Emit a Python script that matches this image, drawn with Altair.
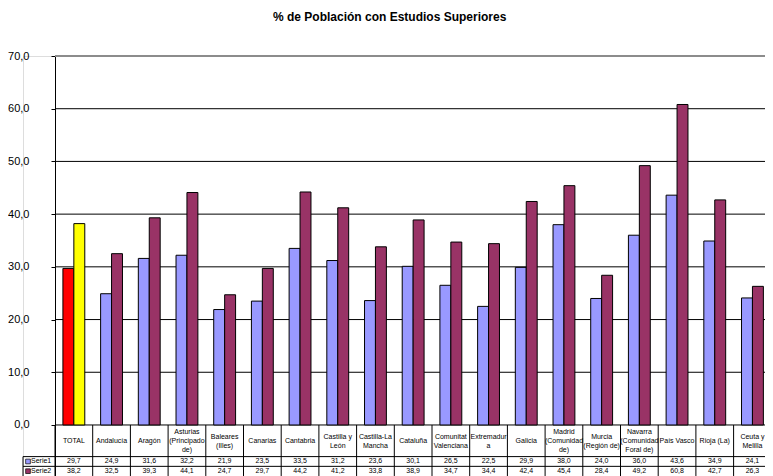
import altair as alt
import pandas as pd

# ---------------- data ----------------
categories = ["TOTAL", "Andalucía", "Aragón", "Asturias (Principado de)", "Baleares (Illes)",
              "Canarias", "Cantabria", "Castilla y León", "Castilla-La Mancha", "Cataluña",
              "Comunitat Valenciana", "Extremadura", "Galicia", "Madrid (Comunidad de)",
              "Murcia (Región de)", "Navarra (Comunidad Foral de)", "País Vasco", "Rioja (La)",
              "Ceuta y Melilla"]
header_labels = ["TOTAL", "Andalucía", "Aragón", "Asturias|(Principado|de)", "Baleares|(Illes)",
                 "Canarias", "Cantabria", "Castilla y|León", "Castilla-La|Mancha", "Cataluña",
                 "Comunitat|Valenciana", "Extremadur|a", "Galicia", "Madrid|(Comunidad|de)",
                 "Murcia|(Región de)", "Navarra|(Comunidad|Foral de)", "País Vasco", "Rioja (La)",
                 "Ceuta y|Melilla"]
serie1 = [29.7, 24.9, 31.6, 32.2, 21.9, 23.5, 33.5, 31.2, 23.6, 30.1,
          26.5, 22.5, 29.9, 38.0, 24.0, 36.0, 43.6, 34.9, 24.1]
serie2 = [38.2, 32.5, 39.3, 44.1, 24.7, 29.7, 44.2, 41.2, 33.8, 38.9,
          34.7, 34.4, 42.4, 45.4, 28.4, 49.2, 60.8, 42.7, 26.3]
series_names = ["Serie1", "Serie2"]
series_colors = ["#9999FF", "#993366"]
total_colors = ["#FF0000", "#FFFF00"]
y_ticks = [0, 10, 20, 30, 40, 50, 60, 70]

# ---------------- layout constants (column / table units) ----------------
PX_PER_COL = 37.7   # pixel width of one category column
LEG = 32 / PX_PER_COL  # width of the legend column of the data table
PLOT_W = 742
PLOT_H = 420
X_MAX = PLOT_W / PX_PER_COL - LEG   # visible right end (last column is cut like the original)
BAR_W = 0.29        # bar width as share of a category column
Y_TOP = 70
HEAD_BOT = -6.0     # data-table rows (below the zero line)
S1_BOT = -7.85
Y_MIN = -9.68
LINE_H = 9          # header line height (px)
FONT = "Liberation Sans"
px_per_y = PLOT_H / (Y_TOP - Y_MIN)
SW_X = -LEG + 5 / PX_PER_COL  # legend swatch centre

# ---------------- tables ----------------
rows = []
for i, cat in enumerate(categories):
    for s, vals in enumerate([serie1, serie2]):
        fill = total_colors[s] if cat == "TOTAL" else series_colors[s]
        rows.append({"idx": i, "cat": cat, "s": s, "series": series_names[s],
                     "value": vals[i], "fill": fill})
bars_df = pd.DataFrame(rows)
header_df = pd.DataFrame({"idx": list(range(len(categories))), "label": header_labels})
grid_df = pd.DataFrame({"v": y_ticks})
vlines_df = pd.DataFrame({"i": list(range(len(categories) + 1))})
legend_df = pd.DataFrame({"series": series_names, "color": series_colors, "s": [0, 1]})

xscale = alt.Scale(domain=[-LEG, X_MAX], nice=False, zero=False, padding=0)
yscale = alt.Scale(domain=[Y_MIN, Y_TOP], nice=False, zero=False, padding=0)
y_axis = alt.Axis(
    values=y_ticks, labelExpr="replace(format(datum.value, '.1f'), '.', ',')",
    offset=-32, grid=False, title=None,
    domainColor="#000000", domainWidth=1, tickColor="#000000", tickSize=4,
    labelFont=FONT, labelFontSize=11, labelColor="#000000", labelPadding=22)


def X(field):
    return alt.X(field, scale=xscale, axis=None)


def Y(field):
    return alt.Y(field, scale=yscale, axis=y_axis)


row_center = f"datum.s == 0 ? {(HEAD_BOT + S1_BOT) / 2} : {(S1_BOT + Y_MIN) / 2}"

# grid lines (0 line = x axis / table top, 70 = grey plot-area frame)
grid = alt.Chart(grid_df).transform_calculate(
    xa="0", xb=str(X_MAX)).mark_rule().encode(
    x=X("xa:Q"), x2="xb:Q", y=Y("v:Q"),
    color=alt.condition(f"datum.v == {Y_TOP}", alt.value("#8c8c8c"), alt.value("#000000")),
    strokeWidth=alt.condition(f"datum.v == {Y_TOP}", alt.value(2), alt.value(1)),
)

# bars
bars = alt.Chart(bars_df).transform_calculate(
    x0=f"datum.idx + 0.5 - (datum.s == 0 ? {BAR_W} : 0)",
    x1=f"datum.idx + 0.5 + (datum.s == 1 ? {BAR_W} : 0)",
    zero="0",
).mark_bar(stroke="#000000", strokeWidth=1, orient="vertical").encode(
    x=X("x0:Q"), x2="x1:Q", y=Y("value:Q"), y2="zero:Q",
    fill=alt.Fill("fill:N", scale=None),
    tooltip=["cat:N", "series:N", "value:Q"],
)

# table vertical borders
vlines = alt.Chart(vlines_df).transform_calculate(
    ya="0", yb=str(Y_MIN)).mark_rule(color="#000000", strokeWidth=1).encode(
    x=X("i:Q"), y=Y("ya:Q"), y2="yb:Q")

# table horizontal borders (header bottom / between series rows) and legend left border
hlines = alt.Chart(legend_df).transform_calculate(
    yy=f"datum.s == 0 ? {HEAD_BOT} : {S1_BOT}", xa=str(-LEG), xb=str(X_MAX)).mark_rule(
    color="#000000", strokeWidth=1).encode(
    x=X("xa:Q"), x2="xb:Q", y=Y("yy:Q"))
leg_border = alt.Chart(legend_df).transform_filter("datum.s == 0").transform_calculate(
    xa=str(-LEG), ya=str(HEAD_BOT), yb=str(Y_MIN)).mark_rule(
    color="#000000", strokeWidth=1).encode(
    x=X("xa:Q"), y=Y("ya:Q"), y2="yb:Q")

# header texts (multi-line, vertically centred in the header row)
header = alt.Chart(header_df).transform_calculate(
    xc="datum.idx + 0.5",
    nl="length(split(datum.label, '|'))",
).transform_calculate(
    yc=f"{HEAD_BOT / 2} + datum.nl * {LINE_H / 2} / {px_per_y}",
).mark_text(
    font=FONT, fontSize=7, lineBreak="|", lineHeight=LINE_H, color="#000000",
    baseline="top", dy=1).encode(
    x=X("xc:Q"), y=Y("yc:Q"), text="label:N")

# value texts
values = alt.Chart(bars_df).transform_calculate(
    xc="datum.idx + 0.5", yc=row_center,
    txt="replace(format(datum.value, '.1f'), '.', ',')").mark_text(
    font=FONT, fontSize=7, color="#000000", baseline="middle").encode(
    x=X("xc:Q"), y=Y("yc:Q"), text="txt:N")

# legend cells
leg_sw = alt.Chart(legend_df).transform_calculate(yc=row_center, xc=str(SW_X)).mark_square(
    size=22, stroke="#000000", strokeWidth=0.7, opacity=1).encode(
    x=X("xc:Q"), y=Y("yc:Q"), fill=alt.Fill("color:N", scale=None))
leg_txt = alt.Chart(legend_df).transform_calculate(yc=row_center, xc=str(-LEG)).mark_text(
    font=FONT, fontSize=7, color="#000000", align="left", baseline="middle", dx=8).encode(
    x=X("xc:Q"), y=Y("yc:Q"), text="series:N")

chart = alt.layer(grid, bars, vlines, hlines, leg_border, header, values, leg_sw, leg_txt).properties(
    width=PLOT_W, height=PLOT_H,
    title=alt.Title("% de Población con Estudios Superiores", font=FONT, fontSize=12,
                    fontWeight="bold", color="#000000", anchor="middle", frame="bounds", offset=26),
    autosize=alt.AutoSizeParams(type="none"),
    padding={"left": 15, "top": 48, "right": 0, "bottom": 0},
).configure_view(stroke=None).configure(font=FONT)

chart.save("out.html", embed_options={"renderer": "svg", "actions": False})
